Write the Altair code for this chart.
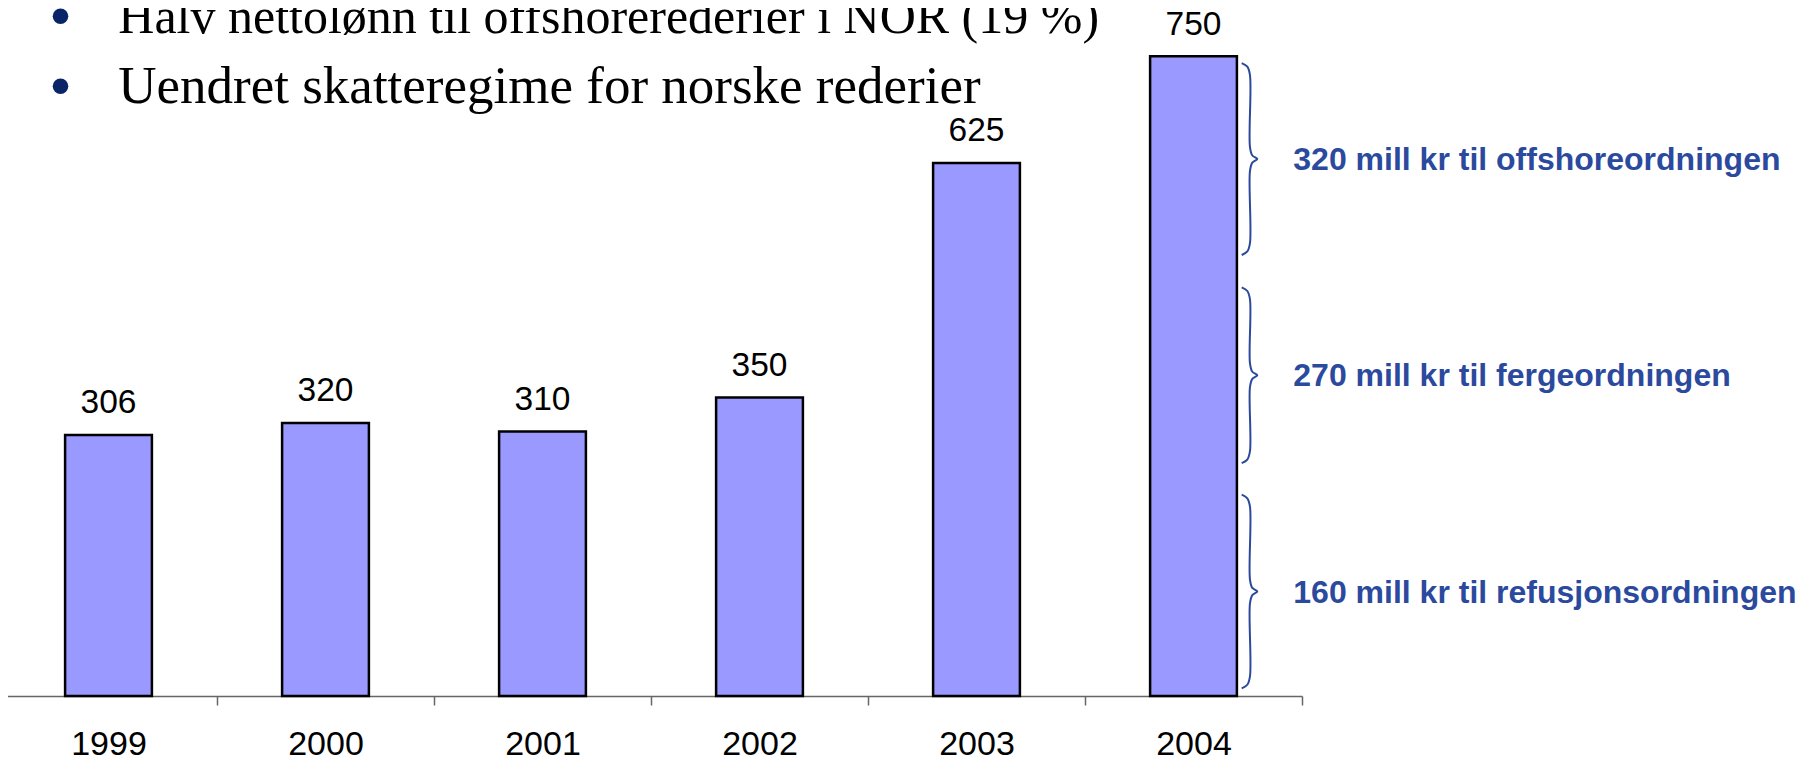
import altair as alt
import pandas as pd

# ---- data ----
years = ["1999", "2000", "2001", "2002", "2003", "2004"]
values = [306, 320, 310, 350, 625, 750]

bullet_lines = [
    "Halv nettolønn til offshorerederier i NOR (19 %)",
    "Uendret skatteregime for norske rederier",
]

brace_labels = [
    "320 mill kr til offshoreordningen",
    "270 mill kr til fergeordningen",
    "160 mill kr til refusjonsordningen",
]
brace_lo = [517, 273, 9]
brace_hi = [742, 479, 236]

# ---- styling constants ----
BAR_FILL = "#9999FF"
BLUE = "#2B4A9E"
NAVY = "#0A2468"
SANS = "Liberation Sans"
SERIF = "Liberation Serif"
STEP = 217

df = pd.DataFrame({"year": years, "value": values})

yscale = alt.Scale(domain=[0, 806.6], nice=False, zero=True)
xscale = alt.Scale(domain=years, range=[-8, 1294], paddingInner=0.6, paddingOuter=0.3)

base = alt.Chart(df).encode(
    x=alt.X(
        "year:N",
        sort=years,
        scale=xscale,
        axis=alt.Axis(
            title=None,
            labelAngle=0,
            tickOffset=STEP / 2,
            labelOffset=-STEP / 2,
            tickSize=9,
            tickWidth=1.5,
            tickColor="#666666",
            domainColor="#666666",
            domainWidth=1.5,
            labelFont=SANS,
            labelFontSize=34,
            labelColor="black",
            labelPadding=22,
            grid=False,
        ),
    ),
    y=alt.Y("value:Q", scale=yscale, axis=None),
)

bars = base.mark_bar(fill=BAR_FILL, stroke="black", strokeWidth=2.5)
value_labels = base.mark_text(
    font=SANS, fontSize=33.5, baseline="alphabetic", dy=-21.7, color="black"
).encode(text=alt.Text("value:Q"))

main = alt.layer(bars, value_labels)

# ---- braces (decorative annotation built from brace extents) ----
rows = []
for i, (lo, hi) in enumerate(zip(brace_lo, brace_hi)):
    mid = (lo + hi) / 2
    r = 14
    shape = [
        (0.0, hi), (0.36, hi - 0.3 * r), (0.53, hi - r),
        (0.53, mid + r), (0.68, mid + 0.3 * r), (1.0, mid),
        (0.68, mid - 0.3 * r), (0.53, mid - r),
        (0.53, lo + r), (0.36, lo + 0.3 * r), (0.0, lo),
    ]
    for k, (bx, by) in enumerate(shape):
        rows.append({"brace": i, "k": k, "bx": bx, "by": by})
brace_df = pd.DataFrame(rows)

bscale = alt.Scale(domain=[0, 1], range=[1233.7, 1249.3], nice=False, zero=False)

brace_lines = alt.Chart(brace_df).mark_line(
    color=BLUE, strokeWidth=2, interpolate="catmull-rom"
).encode(
    x=alt.X("bx:Q", scale=bscale, axis=None),
    y=alt.Y("by:Q", scale=yscale, axis=None),
    detail="brace:N",
    order="k:Q",
)

label_df = pd.DataFrame({
    "label": brace_labels,
    "tx": [1.0, 1.0, 1.0],
    "ty": [(lo + hi) / 2 for lo, hi in zip(brace_lo, brace_hi)],
})
brace_text = alt.Chart(label_df).mark_text(
    font=SANS, fontSize=32, fontWeight="bold", color=BLUE,
    align="left", baseline="middle", dx=36, dy=1,
).encode(
    x=alt.X("tx:Q", scale=bscale, axis=None),
    y=alt.Y("ty:Q", scale=yscale, axis=None),
    text="label:N",
)

annot = alt.layer(brace_lines, brace_text)

# ---- bullets at the top ----
bullet_layers = []
text_y = [25.3, 95.3]
dot_y = [8.2, 78.2]
text_size = [50, 53]
for line, yb, yd, fs in zip(bullet_lines, text_y, dot_y, text_size):
    one = pd.DataFrame({"t": [line]})
    bullet_layers.append(
        alt.Chart(one).mark_text(
            font=SERIF, fontSize=fs, align="left", baseline="alphabetic", color="black"
        ).encode(x=alt.value(110.3), y=alt.value(yb), text="t:N")
    )
    bullet_layers.append(
        alt.Chart(one).mark_point(
            shape="circle", filled=True, size=243, color=NAVY, opacity=1
        ).encode(x=alt.value(52.5), y=alt.value(yd))
    )

chart = (
    alt.layer(main, annot, *bullet_layers)
    .resolve_scale(x="independent")
    .properties(
        width=1791,
        height=688,
        padding={"left": 0, "top": 0, "right": 0, "bottom": 61},
        autosize=alt.AutoSizeParams(type="none"),
        background="white",
    )
    .configure_view(stroke=None)
)

chart.save("out.html", embed_options={"renderer": "svg", "actions": False})
